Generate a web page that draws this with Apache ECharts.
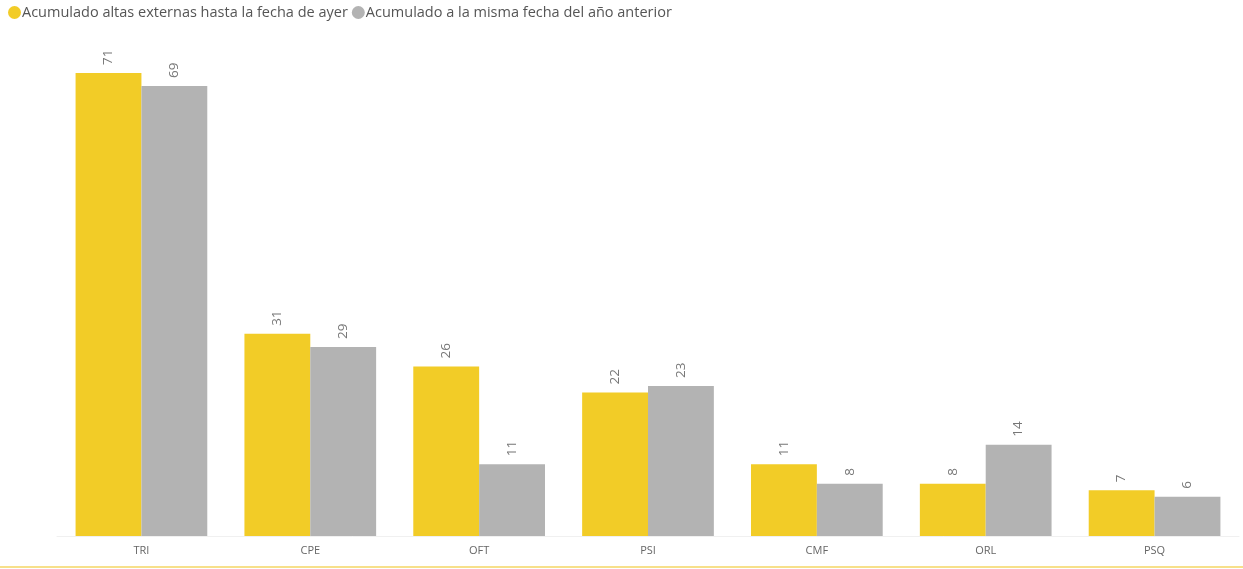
<!DOCTYPE html>
<html><head><meta charset="utf-8">
<script src="https://cdn.jsdelivr.net/npm/echarts@6/dist/echarts.min.js"></script>
<style>html,body{margin:0;padding:0;background:#fff}#c{width:1243px;height:569px}</style>
</head><body><div id="c"></div>
<script>
const categories = ['TRI','CPE','OFT','PSI','CMF','ORL','PSQ'];
const seriesNames = ['Acumulado altas externas hasta la fecha de ayer','Acumulado a la misma fecha del año anterior'];
const actual = [71,31,26,22,11,8,7];
const previous = [69,29,11,23,8,14,6];
const FONT = '"Segoe UI","Open Sans","Noto Sans",sans-serif';
const chart = echarts.init(document.getElementById('c'));
const lbl = {show:true, position:'top', rotate:90, align:'left', verticalAlign:'middle', distance:8, color:'#777', fontSize:13.5, fontFamily:FONT};
chart.setOption({
  animation:false,
  legend:{left:3, top:0, itemGap:4, itemWidth:13, itemHeight:13, icon:'circle', textStyle:{color:'#555', fontSize:14.5, fontFamily:FONT, padding:[0,0,0,-4]}},
  grid:{left:57, right:4, top:73, bottom:33},
  xAxis:{type:'category', data:categories, axisLine:{show:true, lineStyle:{color:'#f0f0f0'}}, axisTick:{show:false}, axisLabel:{color:'#666', fontSize:11, fontFamily:FONT, margin:9}},
  yAxis:{type:'value', min:0, max:71, show:false, splitLine:{show:false}},
  series:[
    {name:seriesNames[0], type:'bar', data:actual, barGap:0, barCategoryGap:'22%', itemStyle:{color:'#F2CC27'}, label:lbl},
    {name:seriesNames[1], type:'bar', data:previous, itemStyle:{color:'#B3B3B3'}, label:lbl}
  ],
  graphic:[{type:'rect', shape:{x:0, y:566, width:1243, height:2}, style:{fill:'#F7E08A'}}]
});
</script></body></html>
